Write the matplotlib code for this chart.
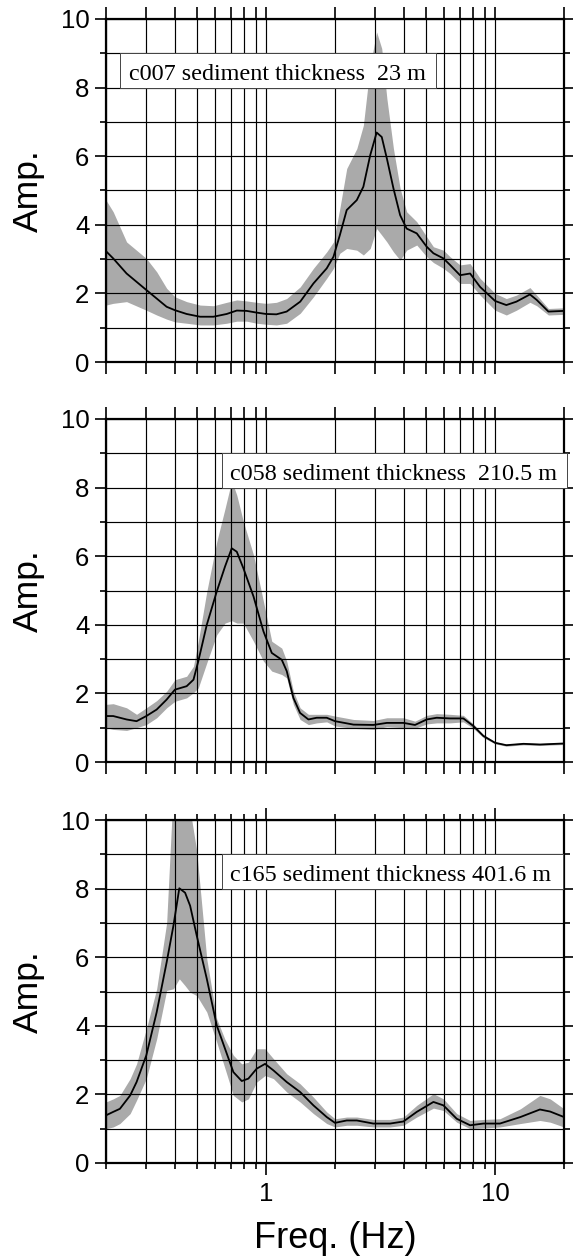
import numpy as np
import matplotlib
matplotlib.use('Agg')
import matplotlib.pyplot as plt
import matplotlib.transforms as mtransforms
from matplotlib.patches import Rectangle
from matplotlib.ticker import FixedLocator, FixedFormatter, NullFormatter

plt.rcParams['font.family'] = ['Liberation Sans', 'DejaVu Sans']

# ---------------- data ----------------
# Panel 1 : c007
freq_c007 = [0.20, 0.215, 0.246, 0.30, 0.333, 0.368, 0.40, 0.45, 0.515, 0.589,
             0.673, 0.745, 0.823, 0.91, 1.0, 1.11, 1.23, 1.41, 1.61, 1.84,
             1.97, 2.10, 2.25, 2.49, 2.66, 2.85, 3.04, 3.20, 3.37, 3.60,
             3.85, 4.11, 4.55, 5.03, 5.38, 5.95, 6.36, 7.03, 7.78, 8.60,
             10.0, 11.2, 12.4, 14.2, 15.2, 17.1, 20.0]
mean_c007 = [3.23, 3.02, 2.58, 2.10, 1.85, 1.61, 1.51, 1.40, 1.32, 1.32,
             1.40, 1.50, 1.49, 1.44, 1.40, 1.39, 1.47, 1.76, 2.29, 2.73,
             3.07, 3.70, 4.43, 4.72, 5.11, 6.03, 6.69, 6.56, 5.93, 5.06,
             4.28, 3.89, 3.75, 3.36, 3.17, 3.02, 2.83, 2.53, 2.58, 2.19,
             1.78, 1.66, 1.76, 1.97, 1.81, 1.47, 1.49]
hi_c007 = [4.72, 4.38, 3.50, 3.02, 2.63, 2.15, 1.90, 1.76, 1.66, 1.64,
           1.74, 1.81, 1.78, 1.74, 1.71, 1.74, 1.85, 2.19, 2.73, 3.21,
           3.50, 4.48, 5.64, 6.22, 6.90, 8.65, 9.62, 9.14, 7.68, 6.22,
           5.06, 4.38, 4.09, 3.65, 3.36, 3.26, 3.07, 2.83, 2.87, 2.44,
           2.00, 1.85, 1.95, 2.17, 1.95, 1.56, 1.58]
lo_c007 = [1.66, 1.71, 1.76, 1.51, 1.37, 1.25, 1.17, 1.13, 1.08, 1.08,
           1.13, 1.19, 1.19, 1.13, 1.10, 1.08, 1.13, 1.42, 1.90, 2.44,
           2.73, 3.17, 3.31, 3.26, 3.12, 3.31, 3.89, 3.70, 3.50, 3.21,
           2.97, 3.26, 3.41, 3.07, 2.90, 2.73, 2.58, 2.29, 2.29, 1.95,
           1.51, 1.37, 1.51, 1.74, 1.64, 1.37, 1.39]

# Panel 2 : c058
freq_c058 = [0.20, 0.215, 0.246, 0.272, 0.30, 0.333, 0.368, 0.40, 0.45, 0.482,
             0.506, 0.551, 0.609, 0.662, 0.708, 0.745, 0.796, 0.881, 0.974, 1.059,
             1.171, 1.231, 1.316, 1.408, 1.531, 1.664, 1.84, 2.00, 2.41, 2.94,
             3.37, 3.98, 4.47, 5.03, 5.56, 6.36, 7.27, 8.04, 8.89, 10.0,
             11.2, 13.3, 15.7, 20.0]
mean_c058 = [1.34, 1.34, 1.24, 1.19, 1.34, 1.53, 1.82, 2.11, 2.21, 2.40,
             2.94, 4.00, 4.97, 5.70, 6.23, 6.13, 5.65, 4.83, 3.81, 3.18,
             2.98, 2.65, 1.87, 1.43, 1.24, 1.29, 1.29, 1.19, 1.09, 1.08,
             1.14, 1.14, 1.08, 1.24, 1.29, 1.27, 1.27, 1.05, 0.76, 0.56,
             0.49, 0.53, 0.51, 0.54]
hi_c058 = [1.68, 1.70, 1.58, 1.39, 1.58, 1.79, 2.06, 2.40, 2.50, 2.79,
           3.52, 4.97, 6.42, 7.39, 8.20, 7.78, 7.01, 6.04, 4.68, 3.52,
           3.32, 2.94, 2.06, 1.58, 1.39, 1.39, 1.39, 1.34, 1.24, 1.21,
           1.29, 1.29, 1.19, 1.36, 1.41, 1.39, 1.36, 1.11, 0.80, 0.59,
           0.52, 0.56, 0.54, 0.57]
lo_c058 = [1.00, 0.95, 0.92, 1.00, 1.09, 1.29, 1.58, 1.77, 1.87, 2.02,
           2.16, 2.89, 3.71, 4.05, 4.12, 4.05, 4.05, 3.52, 2.94, 2.65,
           2.55, 2.45, 1.68, 1.24, 1.09, 1.14, 1.17, 1.05, 0.98, 0.95,
           1.03, 1.00, 0.98, 1.11, 1.14, 1.14, 1.17, 0.98, 0.71, 0.53,
           0.46, 0.50, 0.48, 0.51]

# Panel 3 : c165
freq_c165 = [0.20, 0.215, 0.230, 0.255, 0.272, 0.30, 0.333, 0.368, 0.394, 0.418,
             0.443, 0.466, 0.498, 0.551, 0.609, 0.662, 0.72, 0.783, 0.837, 0.91,
             0.99, 1.077, 1.231, 1.408, 1.61, 1.84, 2.00, 2.25, 2.49, 2.94,
             3.48, 3.98, 4.55, 5.38, 5.95, 6.80, 7.78, 8.89, 10.5, 12.9,
             15.7, 17.4, 20.0]
mean_c165 = [1.39, 1.49, 1.58, 1.97, 2.36, 3.14, 4.40, 5.85, 6.92, 8.01,
             7.88, 7.50, 6.63, 5.37, 4.01, 3.33, 2.65, 2.39, 2.46, 2.75,
             2.89, 2.70, 2.36, 2.07, 1.68, 1.34, 1.17, 1.24, 1.24, 1.15,
             1.15, 1.21, 1.49, 1.78, 1.68, 1.29, 1.10, 1.15, 1.15, 1.34,
             1.56, 1.50, 1.34]
hi_c165 = [1.78, 1.87, 1.97, 2.46, 2.89, 3.91, 5.08, 7.00, 11.0, 11.0,
           11.0, 10.3, 9.10, 5.95, 4.20, 3.60, 3.14, 2.89, 2.94, 3.33,
           3.33, 3.04, 2.60, 2.31, 1.92, 1.49, 1.29, 1.34, 1.34, 1.27,
           1.27, 1.34, 1.68, 2.02, 1.87, 1.44, 1.24, 1.27, 1.29, 1.58,
           1.97, 1.87, 1.58]
lo_c165 = [1.00, 1.05, 1.15, 1.44, 1.83, 2.46, 3.62, 5.03, 5.08, 5.37,
           5.17, 4.98, 4.88, 4.40, 3.52, 2.75, 1.97, 1.78, 1.87, 2.36,
           2.55, 2.46, 2.07, 1.78, 1.44, 1.15, 1.05, 1.10, 1.10, 1.05,
           1.05, 1.10, 1.34, 1.60, 1.53, 1.19, 1.00, 1.02, 1.05, 1.15,
           1.24, 1.19, 1.05]

labels = ["c007 sediment thickness  23 m",
          "c058 sediment thickness  210.5 m",
          "c165 sediment thickness 401.6 m"]

x_major = [1, 10]
x_major_labels = ["1", "10"]
x_minor = [0.2, 0.3, 0.4, 0.5, 0.6, 0.7, 0.8, 0.9,
           2, 3, 4, 5, 6, 7, 8, 9, 20]
y_major = [0, 2, 4, 6, 8, 10]
y_major_labels = ["0", "2", "4", "6", "8", "10"]
y_minor = [1, 3, 5, 7, 9]

panels = [
    (freq_c007, mean_c007, lo_c007, hi_c007),
    (freq_c058, mean_c058, lo_c058, hi_c058),
    (freq_c165, mean_c165, lo_c165, hi_c165),
]

# ---------------- layout ----------------
W, H = 573, 1257
fig = plt.figure(figsize=(W / 100, H / 100), dpi=100)

left_px, right_px = 106, 564
tops = [19, 419, 820]
ph = 343
# box extents (axes fraction), text start
box_specs = [(0.0306, 0.7205, 0.0502),
             (0.2533, 1.0066, 0.2707),
             (0.2533, 0.9978, 0.2707)]

axes = []
for i, (f, m, lo, hi) in enumerate(panels):
    top = tops[i]
    ax = fig.add_axes([left_px / W, 1 - (top + ph) / H,
                       (right_px - left_px) / W, ph / H])
    axes.append(ax)
    ax.set_xscale('log')
    ax.fill_between(f, lo, hi, color='#aaaaaa', lw=0, zorder=1)
    ax.plot(f, m, color='black', lw=1.3, zorder=3)
    ax.set_xlim(0.2, 20)
    ax.set_ylim(0, 10)

    ax.xaxis.set_major_locator(FixedLocator(x_major))
    ax.xaxis.set_minor_locator(FixedLocator(x_minor))
    ax.yaxis.set_major_locator(FixedLocator(y_major))
    ax.yaxis.set_minor_locator(FixedLocator(y_minor))
    ax.xaxis.set_minor_formatter(NullFormatter())
    ax.yaxis.set_minor_formatter(NullFormatter())
    ax.yaxis.set_major_formatter(FixedFormatter(y_major_labels))
    if i == 2:
        ax.xaxis.set_major_formatter(FixedFormatter(x_major_labels))
    else:
        ax.xaxis.set_major_formatter(NullFormatter())

    ax.set_axisbelow(False)
    ax.grid(which='both', color='black', lw=0.85)

    for sp in ax.spines.values():
        sp.set_linewidth(1.6)
        sp.set_zorder(5)

    ax.tick_params(axis='both', which='both', direction='out',
                   top=True, right=True, width=1.2, color='black',
                   labelsize=18.5)
    ax.tick_params(axis='y', which='major', length=8, pad=4)
    ax.tick_params(axis='y', which='minor', length=4.3)
    if i == 2:
        ax.tick_params(axis='x', which='major', length=8.6, pad=5)
        ax.tick_params(axis='x', which='minor', length=4.3)
    else:
        ax.tick_params(axis='x', which='both', length=8.3)

    ax.set_ylabel('Amp.', fontsize=25.5)
    ax.yaxis.set_label_coords(-0.133, 0.5)

    # label box
    x0, x1, xt = box_specs[i]
    trans = mtransforms.blended_transform_factory(ax.transAxes, ax.transData)
    ax.add_patch(Rectangle((x0, 8), x1 - x0, 1, transform=trans,
                           facecolor='white', edgecolor='#444444',
                           lw=0.7, zorder=6, clip_on=False))
    ax.text(xt, 8.23, labels[i], transform=trans, ha='left', va='baseline',
            fontsize=17.4, family='Liberation Serif', zorder=7)

axes[2].set_xlabel('Freq. (Hz)', fontsize=26)
axes[2].xaxis.label.set_va('baseline')
axes[2].xaxis.set_label_coords(0.5, -0.248)

fig.savefig('out.png', dpi=100)
